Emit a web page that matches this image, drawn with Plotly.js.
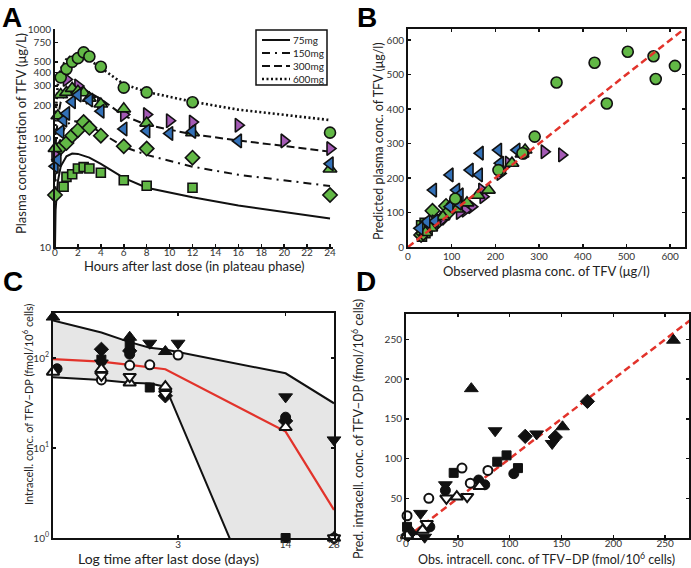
<!DOCTYPE html>
<html><head><meta charset="utf-8">
<script src="https://cdn.plot.ly/plotly-3.0.1.min.js"></script>
<style>html,body{margin:0;padding:0;background:#fff}#chart{width:691px;height:568px}</style>
</head><body><div id="chart"></div>
<script>
// ---------- Panel A : plasma TFV vs hours ----------
const modelHours = [0, 0.05, 0.25, 0.5, 1, 1.5, 2, 3, 4, 6, 8, 12, 16, 20, 24];
const model75  = [10, 22, 40, 55, 68, 72, 71.5, 66, 58, 43, 35, 28.6, 24, 21, 18.3];
const model150 = [20, 40, 75, 105, 132, 143, 142, 130, 112, 83, 70, 54.6, 46, 41, 36.3];
const model300 = [40, 85, 155, 215, 265, 287, 285, 262, 228, 160, 132, 108, 95, 84, 75];
const model600 = [80, 170, 310, 430, 530, 575, 570, 520, 440, 312, 265, 215, 182, 162, 146];

const sqHours = [0.75, 1, 1.5, 2, 2.5, 3, 4, 6, 8, 12];
const sqConc  = [35.7, 44, 46.5, 52.5, 54, 52.5, 48, 41, 36.5, 35];
const diaHours = [0, 0.5, 1, 1.5, 2, 2.5, 3, 4, 6, 8, 12, 24];
const diaConc  = [30, 82, 90, 105, 118, 140, 124, 105, 84, 80, 66, 30];
const upHours = [0, 0.25, 0.5, 1, 1.5, 2, 2.5, 3, 4, 6, 8, 12, 24];
const upConc  = [80, 160, 250, 262, 285, 268, 260, 232, 205, 185, 137, 112, 52];
const leftHours = [0, 0.25, 0.5, 0.75, 1, 1.5, 2, 3, 4, 6, 8, 10, 12, 16, 24];
const leftConc  = [55, 63, 114, 146, 168, 215, 248, 223, 176, 121, 116, 110, 115, 94, 58];
const rightHours = [0, 1, 2, 3, 4, 6, 8, 10, 12, 16, 20, 24];
const rightConc  = [70, 345, 300, 237, 205, 164, 164, 144, 140, 131, 94, 80];
const circHours = [0.5, 1, 1.5, 2, 2.5, 3, 4, 6, 8, 12, 24];
const circConc  = [360, 430, 500, 540, 610, 560, 450, 290, 262, 213, 112];

const doseNames = ['75mg', '150mg', '300mg', '600mg'];
const yTicksA = [10, 100, 200, 300, 400, 500, 750, 1000];
const xTicksA = [0, 2, 4, 6, 8, 10, 12, 14, 16, 18, 20, 22, 24];

// ---------- Panel B : predicted vs observed plasma ----------
const bCircObs  = [611, 567, 562, 503, 455, 427, 340, 290, 264, 211, 108, 207, 262];
const bCircPred = [525, 487, 553, 566, 416, 534, 477, 320, 271, 221, 140, 223, 272];
const bLeftObs  = [58, 96, 142, 165, 163, 207, 249, 211, 111, 119, 96, 115, 62, 43, 27];
const bLeftPred = [165, 209, 223, 272, 209, 281, 281, 243, 165, 151, 117, 127, 75, 73, 54];
const bRightObs  = [352, 312, 230, 211, 172, 169, 146, 131, 118, 81, 62, 45];
const bRightPred = [267, 276, 243, 213, 146, 165, 117, 107, 100, 83, 73, 60];
const bUpObs  = [268, 261, 238, 184, 160, 135, 112, 80, 52, 40];
const bUpPred = [281, 270, 243, 165, 150, 128, 110, 88, 55, 42];
const bDiaObs  = [56, 87, 30, 35, 65, 80, 92, 105, 40];
const bDiaPred = [105, 119, 35, 40, 70, 85, 100, 125, 55];
const bSqObs  = [30, 35, 32, 45, 50, 40, 55, 38];
const bSqPred = [63, 50, 30, 50, 60, 40, 65, 70];
const bTicks = [0, 100, 200, 300, 400, 500, 600];
const unityB = [0, 700];

// ---------- Panel C : intracellular TFV-DP vs log time ----------
const cDays   = [0.5, 1, 1.5, 2, 2.5, 14, 28];
const cUpper  = [262, 192, 150, 130, 124, 67.6, 31.4];
const cLower  = [61, 57, 53, 52, 48, 0.034, 0.001];
const cMedian = [97, 91, 84, 78, 75, 15.2, 2.05];
const cFilledUpX = [0.5, 1.5, 2.5],        cFilledUpY = [285, 170, 118];
const cFilledDownX = [1, 2, 3, 14, 28],    cFilledDownY = [88, 146, 146, 37, 12.3];
const cFilledDiaX = [1, 1.5, 2.5, 14],     cFilledDiaY = [125, 120, 38, 20];
const cFilledCircX = [0.53, 1.5, 14],      cFilledCircY = [76, 110, 22];
const cFilledSqX = [1, 1.5, 2, 14],        cFilledSqY = [96, 140, 47, 1];
const cOpenCircX = [1, 1.5, 2, 3, 28],     cOpenCircY = [57, 83, 84, 108, 1];
const cOpenUpX = [0.5, 1, 1.5, 2.5, 14, 28], cOpenUpY = [70, 75, 53, 48, 17, 1];
const cOpenDownX = [1, 1.5, 2.5, 28],      cOpenDownY = [64, 62, 40, 1];
const cTickDays = [3, 14, 28];
const cTickConc = [1, 10, 100];
const cTickText = ['10<sup>0</sup>', '10<sup>1</sup>', '10<sup>2</sup>'];

// ---------- Panel D : predicted vs observed intracellular ----------
const dFilledUpObs = [258, 63, 151, 5],           dFilledUpPred = [249, 188, 140, 8];
const dFilledDownObs = [86, 126, 141, 38, 14, 18], dFilledDownPred = [135, 131, 119, 67, 31, 1];
const dFilledDiaObs = [175, 115, 144, 2],         dFilledDiaPred = [172, 128, 127, 4];
const dFilledSqObs = [97, 88, 108, 46, 1],        dFilledSqPred = [104, 96, 88, 82, 14];
const dFilledCircObs = [104, 76, 38, 23, 70],     dFilledCircPred = [81, 67, 60, 14, 73];
const dOpenCircObs = [54, 79, 62, 22, 1],         dOpenCircPred = [88, 85, 69, 50, 28];
const dOpenUpObs = [71, 49, 16, 1],               dOpenUpPred = [65, 52, 10, 3];
const dOpenDownObs = [39, 59, 20],                dOpenDownPred = [50, 52, 18];
const dTicks = [0, 50, 100, 150, 200, 250];
const unityD = [0, 300];

// ---------- styling ----------
const GREEN = '#62b846', BLUE = '#3371b8', PURPLE = '#a45ab5', RED = '#e2332b';
const FONT = 'Lato, "DejaVu Sans", sans-serif';
const W = 691, H = 568;

function pts(x, y, symbol, fill, size, xa, ya, lw) {
  return {x: x, y: y, type: 'scatter', mode: 'markers', xaxis: xa, yaxis: ya,
    showlegend: false, cliponaxis: false, hoverinfo: 'skip',
    marker: {symbol: symbol, color: fill, size: size, line: {color: '#111', width: lw === undefined ? 1.6 : lw}}};
}
function line(x, y, dash, color, width, xa, ya, name) {
  return {x: x, y: y, type: 'scatter', mode: 'lines', xaxis: xa, yaxis: ya, name: name,
    showlegend: false, hoverinfo: 'skip', line: {color: color, width: width, dash: dash}};
}

const traces = [];
// Panel A
const dashes = ['solid', '8px,5px,2px,5px', '8px,4px', '2px,2.5px'];
const widths = [2, 2, 2, 2.6];
[model75, model150, model300, model600].forEach((m, i) => {
  traces.push(line(modelHours, m, dashes[i], '#111', widths[i], 'x', 'y', doseNames[i]));
});
traces.push(pts(sqHours, sqConc, 'square', GREEN, 9, 'x', 'y'));
traces.push(pts(diaHours, diaConc, 'diamond', GREEN, 11, 'x', 'y'));
traces.push(pts(rightHours, rightConc, 'triangle-right', PURPLE, 12, 'x', 'y'));
traces.push(pts(upHours, upConc, 'triangle-up', GREEN, 12, 'x', 'y'));
traces.push(pts(leftHours, leftConc, 'triangle-left', BLUE, 12, 'x', 'y'));
traces.push(pts(circHours, circConc, 'circle', GREEN, 11, 'x', 'y'));

// Panel B
traces.push(pts(bSqObs, bSqPred, 'square', GREEN, 9, 'x2', 'y2'));
traces.push(pts(bDiaObs, bDiaPred, 'diamond', GREEN, 11, 'x2', 'y2'));
traces.push(pts(bRightObs, bRightPred, 'triangle-right', PURPLE, 12, 'x2', 'y2'));
traces.push(pts(bUpObs, bUpPred, 'triangle-up', GREEN, 12, 'x2', 'y2'));
traces.push(pts(bLeftObs, bLeftPred, 'triangle-left', BLUE, 12, 'x2', 'y2'));
traces.push(pts(bCircObs, bCircPred, 'circle', GREEN, 11, 'x2', 'y2'));
traces.push(line(unityB, unityB, '7px,4px', RED, 2.5, 'x2', 'y2', 'y=x'));

// Panel C
traces.push(line(cDays, cUpper, 'solid', '#111', 2, 'x3', 'y3', 'upper'));
const low = line(cDays, cLower, 'solid', '#111', 2, 'x3', 'y3', 'lower');
low.fill = 'tonexty'; low.fillcolor = '#e6e6e6';
traces.push(low);
traces.push(line(cDays, cMedian, 'solid', RED, 2.2, 'x3', 'y3', 'median'));
traces.push(pts(cFilledUpX, cFilledUpY, 'triangle-up', '#111', 12, 'x3', 'y3', 1));
traces.push(pts(cFilledDownX, cFilledDownY, 'triangle-down', '#111', 12, 'x3', 'y3', 1));
traces.push(pts(cFilledDiaX, cFilledDiaY, 'diamond', '#111', 11, 'x3', 'y3', 1));
traces.push(pts(cFilledCircX, cFilledCircY, 'circle', '#111', 10, 'x3', 'y3', 1));
traces.push(pts(cFilledSqX, cFilledSqY, 'square', '#111', 9, 'x3', 'y3', 1));
traces.push(pts(cOpenCircX, cOpenCircY, 'circle', '#fff', 9, 'x3', 'y3', 2));
traces.push(pts(cOpenUpX, cOpenUpY, 'triangle-up', '#fff', 11, 'x3', 'y3', 2));
traces.push(pts(cOpenDownX, cOpenDownY, 'triangle-down', '#fff', 11, 'x3', 'y3', 2));

// Panel D
traces.push(line(unityD, unityD, '7px,4px', RED, 2.5, 'x4', 'y4', 'y=x'));
traces.push(pts(dFilledSqObs, dFilledSqPred, 'square', '#111', 9, 'x4', 'y4', 1));
traces.push(pts(dFilledCircObs, dFilledCircPred, 'circle', '#111', 10, 'x4', 'y4', 1));
traces.push(pts(dFilledDiaObs, dFilledDiaPred, 'diamond', '#111', 11, 'x4', 'y4', 1));
traces.push(pts(dFilledUpObs, dFilledUpPred, 'triangle-up', '#111', 12, 'x4', 'y4', 1));
traces.push(pts(dFilledDownObs, dFilledDownPred, 'triangle-down', '#111', 12, 'x4', 'y4', 1));
traces.push(pts(dOpenCircObs, dOpenCircPred, 'circle', '#fff', 9, 'x4', 'y4', 2));
traces.push(pts(dOpenUpObs, dOpenUpPred, 'triangle-up', '#fff', 11, 'x4', 'y4', 2));
traces.push(pts(dOpenDownObs, dOpenDownPred, 'triangle-down', '#fff', 11, 'x4', 'y4', 2));

const tickFont = {family: FONT, size: 10, color: '#333'};
function ax(extra) {
  return Object.assign({showline: true, linecolor: '#111', linewidth: 2, ticks: 'inside', ticklen: 3,
    tickcolor: '#111', tickwidth: 1.5, showgrid: false, zeroline: false, tickfont: tickFont,
    fixedrange: true}, extra);
}
const px = v => v / W, py = v => 1 - v / H;

// axis titles (placed as paper annotations)
function title(text, x, y, size, angle) {
  return {text: text, xref: 'paper', yref: 'paper', x: px(x), y: py(y), xanchor: 'center', yanchor: 'middle',
    showarrow: false, textangle: angle || 0, font: {family: FONT, size: size, color: '#222'}};
}
const annotations = [
  title('Hours after last dose (in plateau phase)', 194, 266, 13),
  title('Plasma concentration of TFV (\u03bcg/L)', 21, 134, 13, -90),
  title('Observed plasma conc. of TFV (\u03bcg/l)', 546, 271, 13),
  title('Predicted plasma conc. of TFV (\u03bcg/l)', 379, 141, 12.5, -90),
  title('Log time after last dose (days)', 168, 558, 14),
  title('Intracell. conc. of TFV\u2212DP (fmol/10<sup>6</sup> cells)', 27, 404, 11, -90),
  title('Obs. intracell. conc. of TFV\u2212DP (fmol/10<sup>6</sup> cells)', 546, 558, 12.5),
  title('Pred. intracell. conc. of TFV\u2212DP (fmol/10<sup>6</sup> cells)', 357, 429, 12.5, -90)
];
// panel letters
[['A', 12], ['B', 367]].forEach(a => annotations.push({text: '<b>' + a[0] + '</b>', xref: 'paper', yref: 'paper',
  x: px(a[1]), y: 1, xanchor: 'center', yanchor: 'top', showarrow: false,
  font: {family: '"Liberation Sans", Arial, sans-serif', size: 28, color: '#000'}}));
[['C', 13], ['D', 366]].forEach(a => annotations.push({text: '<b>' + a[0] + '</b>', xref: 'paper', yref: 'paper',
  x: px(a[1]), y: py(281), xanchor: 'center', yanchor: 'middle', showarrow: false,
  font: {family: '"Liberation Sans", Arial, sans-serif', size: 28, color: '#000'}}));

// legend of panel A (box, line samples, labels)
const legRows = [40, 53, 66, 79];
const shapes = [{type: 'rect', xref: 'paper', yref: 'paper', x0: px(256), x1: px(327), y0: py(85), y1: py(30),
  line: {color: '#111', width: 1.5}, fillcolor: 'rgba(0,0,0,0)', layer: 'below'}];
doseNames.forEach((n, i) => {
  shapes.push({type: 'line', xref: 'paper', yref: 'paper', x0: px(262), x1: px(290), y0: py(legRows[i]), y1: py(legRows[i]),
    line: {color: '#111', width: widths[i], dash: dashes[i]}, layer: 'below'});
  annotations.push({text: n, xref: 'paper', yref: 'paper', x: px(291), y: py(legRows[i]), xanchor: 'left',
    yanchor: 'middle', showarrow: false, font: {family: FONT, size: 10, color: '#222'}});
});

const layout = {
  width: W, height: H, margin: {l: 0, r: 0, t: 0, b: 0},
  paper_bgcolor: '#fff', plot_bgcolor: 'rgba(0,0,0,0)', font: {family: FONT}, showlegend: false,
  xaxis: ax({domain: [px(55), px(333)], anchor: 'y', range: [0, 24.26], tickvals: xTicksA, ticklabelstandoff: -5}),
  yaxis: ax({domain: [py(247), py(29)], anchor: 'x', type: 'log', range: [1, 3],
    tickvals: yTicksA, ticktext: yTicksA.map(String)}),
  xaxis2: ax({domain: [px(408), px(685)], anchor: 'y2', range: [0, 634], tickvals: bTicks, mirror: 'ticks',
    ticklabelstandoff: -1}),
  yaxis2: ax({domain: [py(247), py(29)], anchor: 'x2', range: [0, 632], tickvals: bTicks, mirror: 'ticks'}),
  xaxis3: ax({domain: [px(53), px(334)], anchor: 'y3', type: 'log',
    range: [Math.log10(cDays[0]), Math.log10(cDays[cDays.length - 1])],
    tickvals: cTickDays, ticktext: cTickDays.map(String), mirror: 'ticks', ticklabelstandoff: -4}),
  yaxis3: ax({domain: [py(538), py(313)], anchor: 'x3', type: 'log', range: [0, 2.5],
    tickvals: cTickConc, ticktext: cTickText, mirror: 'ticks'}),
  xaxis4: ax({domain: [px(406), px(689)], anchor: 'y4', range: [0, 273], tickvals: dTicks, mirror: 'ticks',
    ticklabelstandoff: -5}),
  yaxis4: ax({domain: [py(538), py(314)], anchor: 'x4', range: [0, 282], tickvals: dTicks, mirror: 'ticks'}),
  annotations: annotations,
  shapes: shapes
};

Plotly.newPlot('chart', traces, layout, {staticPlot: true, displayModeBar: false});
</script>
</body></html>
